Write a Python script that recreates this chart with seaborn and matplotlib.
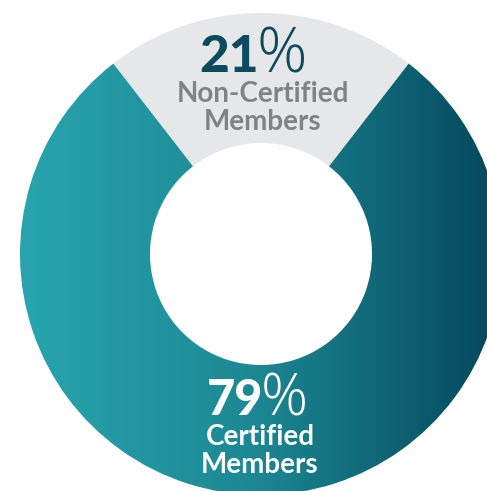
import numpy as np
import matplotlib
matplotlib.use("Agg")
import matplotlib.pyplot as plt
from matplotlib.colors import LinearSegmentedColormap
import seaborn as sns

# Data
labels = ["Non-Certified\nMembers", "Certified\nMembers"]
values = [21, 79]
pct_labels = ["21", "79"]

sns.set_theme(style="white")
plt.rcParams['font.family'] = ['Lato', 'DejaVu Sans']

W, H = 487, 491
fig = plt.figure(figsize=(W / 100, H / 100), dpi=100)
ax = fig.add_axes([0, 0, 1, 1])

cx, cy = 261, H - 254
R, r = 241, 111
half = values[0] / sum(values) * 360 / 2

gray = "#e6e7e9"
wedges, _ = ax.pie(values, center=(cx, cy), radius=R, startangle=90 - half,
                   counterclock=True, colors=[gray, "none"],
                   wedgeprops=dict(width=R - r, edgecolor="none", linewidth=0))

# gradient fill for certified wedge
cmap = LinearSegmentedColormap.from_list(
    "teal", [(0.0, "#28a5ae"), (0.5, "#1c8893"), (1.0, "#054a5e")])
x0, x1 = cx - R, W
grad = np.linspace(0, 1, 512).reshape(1, -1)
im = ax.imshow(grad, cmap=cmap, extent=(x0, x1, 0, H), aspect="auto",
               interpolation="bicubic", zorder=1)
im.set_clip_path(wedges[1])

ax.set_xlim(0, W)
ax.set_ylim(0, H)
ax.set_aspect("equal")
ax.axis("off")

dark = "#0c4a5e"
grey_txt = "#808285"
pct_font = ["Open Sans", "DejaVu Sans"]

# Non-certified labels
ax.text(259, H - 72, pct_labels[0], ha="right", va="baseline", fontsize=37,
        fontweight="black", color=dark, zorder=3)
ax.text(257, H - 72, "%", ha="left", va="baseline", fontsize=45,
        fontweight="light", family=pct_font, color=dark, zorder=3)
ln = labels[0].split("\n")
ax.text(263, H - 102, ln[0], ha="center", va="baseline", fontsize=20,
        fontweight="bold", color=grey_txt, zorder=3)
ax.text(263, H - 130, ln[1], ha="center", va="baseline", fontsize=20,
        fontweight="bold", color=grey_txt, zorder=3)

# Certified labels
ax.text(263, H - 415, pct_labels[1], ha="right", va="baseline", fontsize=35,
        fontweight="black", color="white", zorder=3)
ax.text(261, H - 415, "%", ha="left", va="baseline", fontsize=42,
        fontweight="light", family=pct_font, color="white", zorder=3)
lc = labels[1].split("\n")
ax.text(260, H - 445, lc[0], ha="center", va="baseline", fontsize=20,
        fontweight="bold", color="white", zorder=3)
ax.text(260, H - 473, lc[1], ha="center", va="baseline", fontsize=20,
        fontweight="bold", color="white", zorder=3)

fig.savefig("out.png", dpi=100, facecolor="white")
